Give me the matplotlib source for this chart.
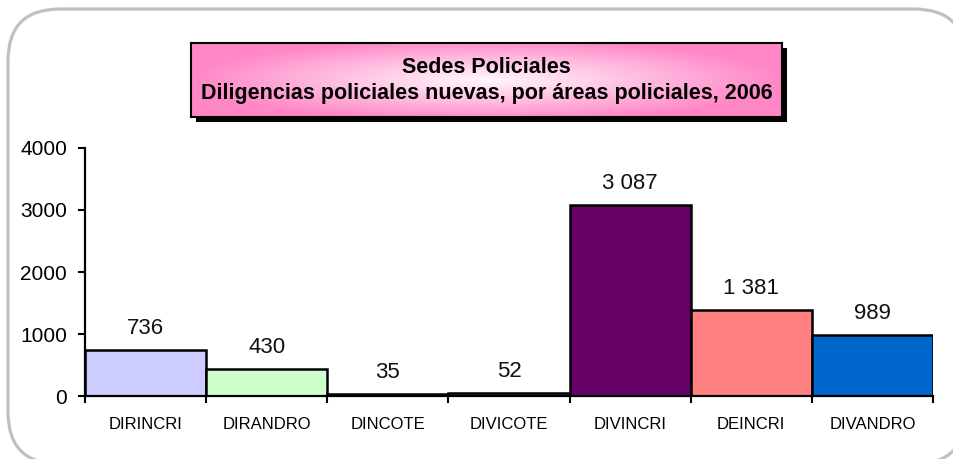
import matplotlib
matplotlib.use("Agg")

import matplotlib.pyplot as plt
import numpy as np
from matplotlib.patches import FancyBboxPatch, Rectangle

# data
areas = ["DIRINCRI", "DIRANDRO", "DINCOTE", "DIVICOTE", "DIVINCRI", "DEINCRI", "DIVANDRO"]
diligencias = [736, 430, 35, 52, 3087, 1381, 989]
bar_colors = ["#CCCCFF", "#CCFFCC", "#000080", "#339999", "#660066", "#FF8080", "#0066CC"]
y_ticks = [0, 1000, 2000, 3000, 4000]

title_1 = "Sedes Policiales"
title_2 = "Diligencias policiales nuevas, por áreas policiales, 2006"

plt.rcParams["font.family"] = ["Liberation Sans", "DejaVu Sans"]

W, H = 954, 459
fig = plt.figure(figsize=(W / 100, H / 100), dpi=100)
fig.patch.set_facecolor("white")


def px(x, y):
    # pixel coords (top-left origin) -> inches for dpi_scale_trans
    return x / 100, (H - y) / 100


# rounded outer border, partly off the canvas
# (filled white so Agg does not clip the stroke to the canvas edge)
bx0, by0 = px(8, 464)
frame = FancyBboxPatch((bx0, by0), (966 - 8) / 100, (464 - 9) / 100,
                       boxstyle="round,pad=0,rounding_size=0.52",
                       facecolor="white", edgecolor="#C0C0C0", linewidth=2.3,
                       transform=fig.dpi_scale_trans, clip_on=False, zorder=-2)
fig.patches.append(frame)

# ---------------------------------------------------------------------------
# bar chart
# ---------------------------------------------------------------------------
ax = fig.add_axes([85 / W, (H - 396) / H, (933 - 85) / W, (396 - 148) / H])
ax.set_facecolor("none")
x = np.arange(len(areas))
ax.bar(x, diligencias, width=1.0, color=bar_colors, edgecolor="black",
       linewidth=1.8, zorder=2)

for xi, v in zip(x, diligencias):
    label = f"{v:,}".replace(",", " ")
    ax.annotate(label, (xi, v), xytext=(0, 11.5), textcoords="offset points",
                ha="center", va="baseline", fontsize=16, color="#111111")

ax.set_xlim(-0.5, len(areas) - 0.5)
ax.set_ylim(0, 4000)
ax.set_yticks(y_ticks)
ax.set_yticklabels([str(t) for t in y_ticks], fontsize=15)
ax.set_xticks(x)
ax.set_xticklabels(areas, fontsize=12)
ax.set_xticks(np.arange(len(areas) + 1) - 0.5, minor=True)
ax.tick_params(axis="x", which="major", length=0, pad=15)
ax.tick_params(axis="x", which="minor", length=5, width=1.5, direction="out")
ax.tick_params(axis="y", length=5, width=1.5, direction="out", pad=8)
for s in ["top", "right"]:
    ax.spines[s].set_visible(False)
for s in ["left", "bottom"]:
    ax.spines[s].set_linewidth(1.6)
    ax.spines[s].set_zorder(3)

# ---------------------------------------------------------------------------
# title box with pink radial gradient and black shadow
# ---------------------------------------------------------------------------
tx0, ty0, tx1, ty1 = 191, 43, 782, 117
sh = 5
shadow = Rectangle(((tx0 + sh) / W, (H - ty1 - sh) / H), (tx1 - tx0) / W, (ty1 - ty0) / H,
                   transform=fig.transFigure, facecolor="black", edgecolor="none", zorder=-1)
fig.patches.append(shadow)

tax = fig.add_axes([tx0 / W, (H - ty1) / H, (tx1 - tx0) / W, (ty1 - ty0) / H])
tax.set_zorder(2)
gx, gy = np.meshgrid(np.linspace(-1, 1, 300), np.linspace(-1, 1, 60))
r = np.clip(np.sqrt(gx ** 2 + (gy * 0.9) ** 2), 0, 1)
c0 = np.array([1.0, 0.97, 0.99])
c1 = np.array([1.0, 0.53, 0.78])
img = c0[None, None, :] * (1 - r[..., None]) + c1[None, None, :] * r[..., None]
tax.imshow(img, extent=(0, 1, 0, 1), aspect="auto", interpolation="bilinear")
tax.set_xlim(0, 1)
tax.set_ylim(0, 1)
tax.set_xticks([])
tax.set_yticks([])
for s in tax.spines.values():
    s.set_linewidth(1.5)
    s.set_color("black")
tax.text(0.5, 0.67, title_1, ha="center", va="center", fontsize=15.5,
         fontweight="bold", color="black")
tax.text(0.5, 0.32, title_2, ha="center", va="center", fontsize=15.5,
         fontweight="bold", color="black")

fig.savefig("out.png", dpi=100, facecolor="white")
